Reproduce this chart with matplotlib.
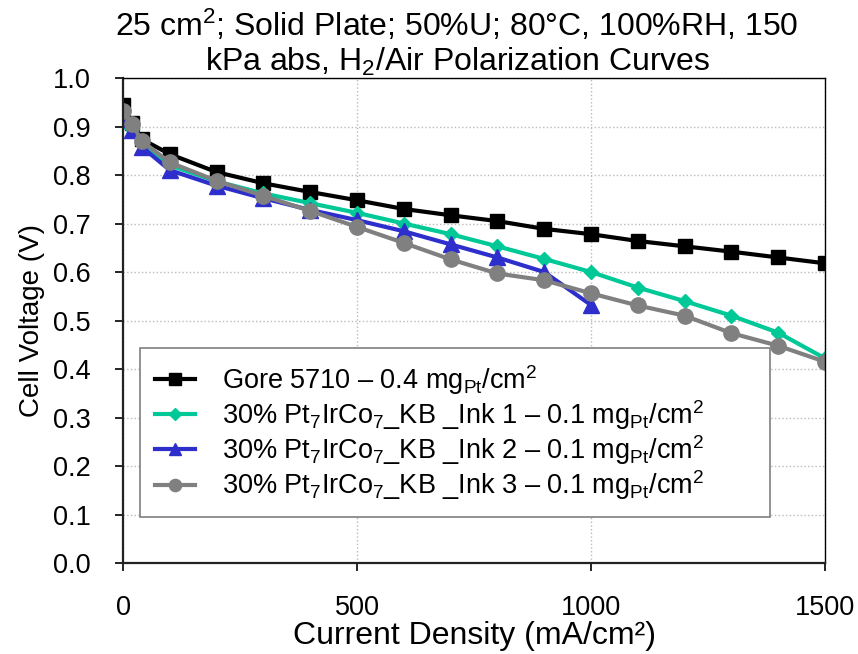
import matplotlib
matplotlib.use('Agg')
import matplotlib.pyplot as plt

plt.rcParams['font.family'] = ['Liberation Sans', 'DejaVu Sans']
plt.rcParams['mathtext.fontset'] = 'custom'
plt.rcParams['mathtext.rm'] = 'Liberation Sans'
plt.rcParams['mathtext.it'] = 'Liberation Sans:italic'
plt.rcParams['mathtext.bf'] = 'Liberation Sans:bold'

# current density (mA/cm2)
current = [0, 20, 40, 100, 200, 300, 400, 500, 600, 700, 800, 900,
           1000, 1100, 1200, 1300, 1400, 1500]
current_ink2 = [0, 20, 40, 100, 200, 300, 400, 500, 600, 700, 800, 900, 1000]

# cell voltage (V)
gore = [0.944, 0.907, 0.874, 0.843, 0.806, 0.783, 0.765, 0.748, 0.730, 0.717,
        0.705, 0.689, 0.678, 0.664, 0.653, 0.642, 0.630, 0.618]
ink1 = [0.910, 0.895, 0.868, 0.820, 0.787, 0.762, 0.742, 0.722, 0.700, 0.678,
        0.653, 0.627, 0.600, 0.568, 0.540, 0.510, 0.475, 0.422]
ink2 = [0.915, 0.892, 0.858, 0.810, 0.778, 0.752, 0.728, 0.707, 0.684, 0.657,
        0.630, 0.600, 0.532]
ink3 = [0.931, 0.905, 0.870, 0.826, 0.788, 0.757, 0.726, 0.693, 0.660, 0.626,
        0.597, 0.583, 0.556, 0.531, 0.510, 0.474, 0.448, 0.415]

labels = [
    'Gore 5710 – 0.4 mg$_{\\mathrm{Pt}}$/cm$^{2}$',
    '30% Pt$_{7}$IrCo$_{7}$_KB _Ink 1 – 0.1 mg$_{\\mathrm{Pt}}$/cm$^{2}$',
    '30% Pt$_{7}$IrCo$_{7}$_KB _Ink 2 – 0.1 mg$_{\\mathrm{Pt}}$/cm$^{2}$',
    '30% Pt$_{7}$IrCo$_{7}$_KB _Ink 3 – 0.1 mg$_{\\mathrm{Pt}}$/cm$^{2}$',
]

fig = plt.figure(figsize=(8.58, 6.54), dpi=100)
ax = fig.add_axes([0.1434, 0.1391, 0.8181, 0.7416])

lw = 3.0
ax.plot(current, gore, color='black', marker='s', markersize=10.5, lw=lw, label=labels[0])
ax.plot(current, ink1, color='#00C896', marker='D', markersize=7.5, lw=lw, label=labels[1])
ax.plot(current_ink2, ink2, color='#2E2ECC', marker='^', markersize=11, lw=lw, label=labels[2])
ax.plot(current, ink3, color='#808080', marker='o', markersize=11, lw=lw, label=labels[3])

ax.set_xlim(0, 1500)
ax.set_ylim(0, 1.0)
ax.set_xticks([0, 500, 1000, 1500])
ax.set_yticks([i / 10 for i in range(11)])
ax.yaxis.set_major_formatter(matplotlib.ticker.FormatStrFormatter('%.1f'))
ax.grid(True, linestyle=':', color='#BBBBBB', linewidth=1.0)
ax.set_axisbelow(True)

ax.tick_params(axis='both', direction='out', labelsize=19.5, length=6, width=1.2)
ax.tick_params(axis='x', pad=17)
ax.tick_params(axis='y', pad=17)

for side in ['left', 'bottom']:
    ax.spines[side].set_linewidth(1.6)
    ax.spines[side].set_color('#222222')
for side in ['top', 'right']:
    ax.spines[side].set_linewidth(1.0)
    ax.spines[side].set_color('black')

ax.set_xlabel('Current Density (mA/cm²)', fontsize=23, labelpad=0)
ax.set_ylabel('Cell Voltage (V)', fontsize=20, labelpad=6)
ax.set_title('25 cm$^{2}$; Solid Plate; 50%U; 80°C, 100%RH, 150\n'
             'kPa abs, H$_{2}$/Air Polarization Curves',
             fontsize=23, x=0.476, pad=5, linespacing=1.1)

leg = ax.legend(loc='lower left', bbox_to_anchor=(0.024, 0.095, 0.898, 0.344),
                mode='expand', fontsize=19.5,
                frameon=True, fancybox=False, edgecolor='#7F7F7F', framealpha=1,
                handlelength=1.5, labelspacing=0.05, borderpad=0.55, handletextpad=1.0,
                borderaxespad=0)
leg.get_frame().set_linewidth(1.2)
for h in leg.legend_handles:
    h.set_markersize(h.get_markersize() * 0.8)

fig.savefig('out.png', dpi=100)
